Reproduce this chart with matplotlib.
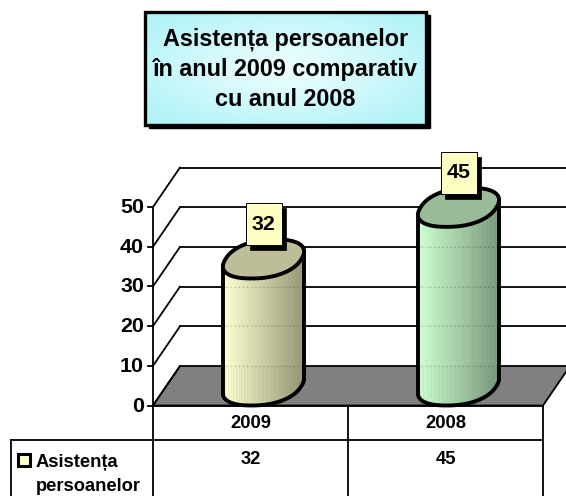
import numpy as np
import matplotlib
matplotlib.use("Agg")
import matplotlib.pyplot as plt
from matplotlib.collections import PolyCollection
from matplotlib.patches import Polygon, Rectangle
from matplotlib.transforms import Affine2D

categories = ["2009", "2008"]
values = [32, 45]
y_ticks = [0, 10, 20, 30, 40, 50]
series_lines = ["Asistența", "persoanelor"]
title = "Asistența persoanelor\nîn anul 2009 comparativ\ncu anul 2008"

W, H = 566, 496
plt.rcParams["font.family"] = ["Liberation Sans", "DejaVu Sans"]
plt.rcParams["font.weight"] = "bold"
fig = plt.figure(figsize=(W / 100, H / 100), dpi=100)
ax = fig.add_axes([0, 0, 1, 1])
ax.axis("off")

PXX, PXY = 195.0, 3.97      # px per category, px per value
X0, Y0 = 250.5, 405.5       # px of category 0 / value 0
ax.set_xlim((0 - X0) / PXX, (W - X0) / PXX)
ax.set_ylim((Y0 - H) / PXY, Y0 / PXY)
px = Affine2D().scale(1 / W, -1 / H).translate(0, 1) + ax.transAxes

DX, DY = 27.0, 39.5         # depth offset in px
LEFT, MID, RIGHT = 153, 348, 543
HEAD = 440
LW = 1.3

# floor
ax.add_patch(Polygon([(LEFT, Y0), (LEFT + DX, Y0 - DY), (RIGHT + DX, Y0 - DY), (RIGHT, Y0)],
                     closed=True, fc="#808080", ec="black", lw=LW, transform=px, zorder=1))
# grid
for v in y_ticks:
    y = Y0 - v * PXY
    if v:
        ax.plot([LEFT + DX, RIGHT + DX], [y - DY, y - DY], color="black", lw=LW, transform=px, zorder=1)
    ax.plot([LEFT, LEFT + DX], [y, y - DY], color="black", lw=LW, transform=px, zorder=1)
    ax.plot([LEFT - 5, LEFT], [y, y], color="black", lw=LW, transform=px, zorder=1)
    ax.text(LEFT - 9, y + 0.5, str(v), ha="right", va="center", fontsize=15.4, transform=px)
ax.plot([LEFT, LEFT], [Y0, Y0 - 50 * PXY], color="black", lw=LW, transform=px, zorder=1)

# cylinders: rounded, sheared ellipse
HALF_W, HALF_H, SHEAR = 40.6, 19.5, 0.33
POW = 0.88
CYL_LW = 2.8
OFF = 13.0 / PXX
palette = [((255, 255, 208), (150, 150, 118), "#BDBD99"),
           ((204, 255, 208), (122, 152, 122), "#99BB99")]

tt = np.linspace(0, 2 * np.pi, 721)
uc = np.sign(np.cos(tt)) * np.abs(np.cos(tt)) ** POW
us = np.sign(np.sin(tt)) * np.abs(np.sin(tt)) ** POW
sx = uc + SHEAR * 2 * us * HALF_H / HALF_W
sy = us
sx = sx / np.abs(sx).max() * HALF_W
sy = sy * HALF_H
il, ir = int(np.argmin(sx)), int(np.argmax(sx))
# lower outline runs from the left extreme to the right extreme
seq = np.arange(il, ir + 721) % 720 if ir <= il else np.arange(il, ir)
seq = seq[:np.where(seq == ir)[0][0] + 1]

for i, (val, (c0, c1, top)) in enumerate(zip(values, palette)):
    cx = i + OFF
    cy = HALF_H / PXY
    xs, ys = cx + sx[seq] / PXX, cy + sy[seq] / PXY
    xg = np.linspace(xs[0], xs[-1], 31)
    yg = np.interp(xg, xs, ys)
    polys, cols = [], []
    for k in range(len(xg) - 1):
        polys.append([(xg[k], yg[k]), (xg[k + 1], yg[k + 1]),
                      (xg[k + 1], yg[k + 1] + val), (xg[k], yg[k] + val)])
        f = k / (len(xg) - 2)
        cols.append(tuple((np.array(c0) + (np.array(c1) - np.array(c0)) * f) / 255))
    ax.add_collection(PolyCollection(polys, facecolors=cols, edgecolors=cols, linewidths=0.3, zorder=3))
    # faint traces of the back grid lines through the bars
    for v in y_ticks[:-1]:
        gv = v + DY / PXY
        if gv < val:
            ax.plot(xg[[1, -2]], [gv, gv], color="black", lw=0.6, ls=(0, (1, 4)), alpha=0.3, zorder=3.5)
    ax.plot(xs, ys, color="black", lw=CYL_LW, zorder=4, solid_capstyle="round")
    ax.plot([xs[0], xs[0]], [ys[0], ys[0] + val], color="black", lw=CYL_LW, zorder=4)
    ax.plot([xs[-1], xs[-1]], [ys[-1], ys[-1] + val], color="black", lw=CYL_LW, zorder=4)
    ax.fill(cx + sx / PXX, cy + val + sy / PXY, fc=top, ec="black", lw=CYL_LW, zorder=5)

    # data label
    by = val + 54.0 / PXY
    bw, bh = 36 / PXX, 42 / PXY
    ax.add_patch(Rectangle((cx - bw / 2 + 4 / PXX, by - bh / 2 - 5 / PXY), bw, bh, fc="black", ec="black", lw=0.5, zorder=6))
    ax.add_patch(Rectangle((cx - bw / 2, by - bh / 2), bw, bh, fc="#FFFFC4", ec="black", lw=0.7, zorder=7))
    ax.text(cx, by, str(val), ha="center", va="center", fontsize=15.4, zorder=8)

# table
for seg in [((LEFT, Y0), (LEFT, H)), ((MID, Y0), (MID, H)), ((RIGHT, Y0), (RIGHT, H)),
            ((LEFT, Y0), (RIGHT, Y0)), ((11, HEAD), (RIGHT, HEAD)), ((11, HEAD), (11, H))]:
    ax.plot([seg[0][0], seg[1][0]], [seg[0][1], seg[1][1]], color="black", lw=LW, transform=px, zorder=2)
for i, (c, v) in enumerate(zip(categories, values)):
    ax.text(i, (Y0 - 423) / PXY, c, ha="center", va="center", fontsize=13.2)
    ax.text(i, (Y0 - 459) / PXY, str(v), ha="center", va="center", fontsize=13.2)
ax.add_patch(Rectangle((17.5, 453.5), 12.5, 12.5, fc="#FFFFCC", ec="black", lw=2.2, transform=px, zorder=3))
ax.text(36, 467, series_lines[0], ha="left", va="baseline", fontsize=13.2, transform=px)
ax.text(36, 491, series_lines[1], ha="left", va="baseline", fontsize=13.2, transform=px)

# title box
ax.add_patch(Rectangle((149, 15), 281, 113, fc="black", ec="black", lw=1, transform=px, zorder=3))
gx, gy = np.meshgrid(np.linspace(-1, 1, 200), np.linspace(-1, 1, 100))
r = np.clip(np.hypot(gx, gy) / 1.25, 0, 1)
c_in, c_out = np.array([240, 255, 255]), np.array([178, 243, 248])
img = (c_in + (c_out - c_in) * r[..., None]) / 255
x1, y2 = 145, 125
x2, y1 = 426, 12
ex = [(x1 - X0) / PXX, (x2 - X0) / PXX, (Y0 - y2) / PXY, (Y0 - y1) / PXY]
ax.imshow(img, extent=ex, aspect="auto", zorder=4, interpolation="bilinear")
ax.set_xlim((0 - X0) / PXX, (W - X0) / PXX)
ax.set_ylim((Y0 - H) / PXY, Y0 / PXY)
ax.add_patch(Rectangle((x1, y1), x2 - x1, y2 - y1, fc="none", ec="black", lw=2.4, transform=px, zorder=5))
ax.text((x1 + x2) / 2, (y1 + y2) / 2 + 0.5, title, ha="center", va="center", fontsize=16.8,
        linespacing=1.4, transform=px, zorder=6)

fig.savefig("out.png", dpi=100)
